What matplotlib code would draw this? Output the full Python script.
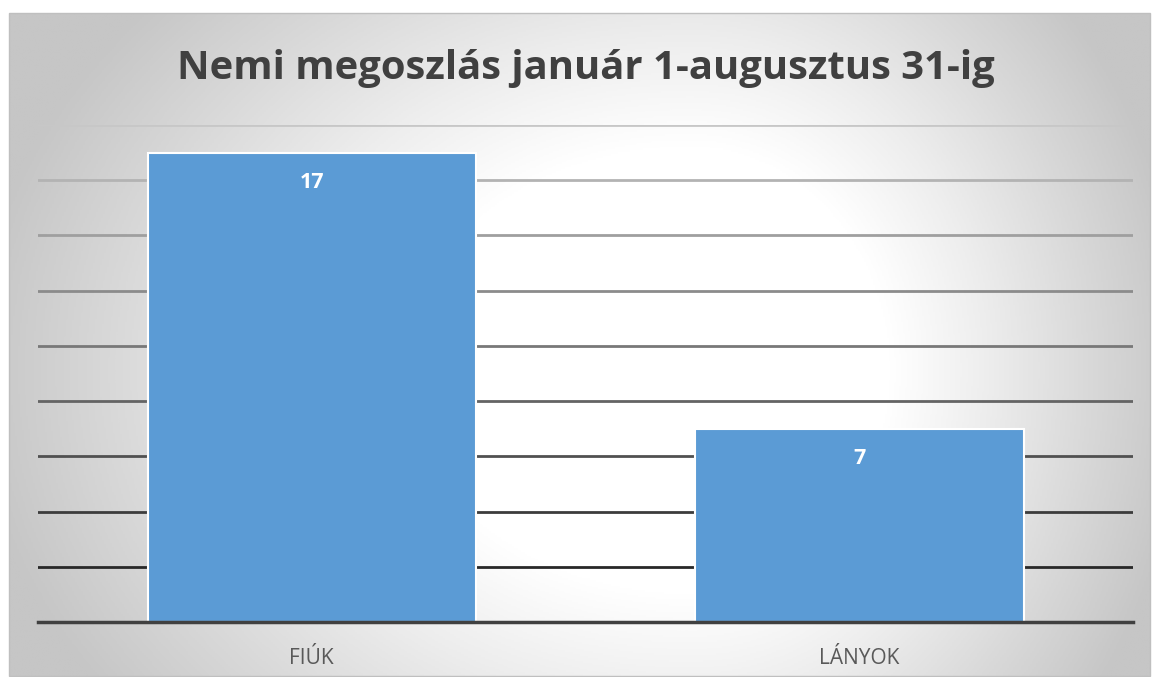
import numpy as np
import matplotlib
matplotlib.use("Agg")
import matplotlib.pyplot as plt
from matplotlib.colors import LinearSegmentedColormap

categories = ["FIÚK", "LÁNYOK"]
values = [17, 7]
title = "Nemi megoszlás január 1-augusztus 31-ig"
ymax = 18
ystep = 2

W, H = 1152, 677
fig = plt.figure(figsize=(W / 100, H / 100), dpi=100)
fig.patch.set_facecolor("white")

# background panel with radial gradient
px0, py0, px1, py1 = 9, 13, 1150, 676
bg = fig.add_axes([px0 / W, 1 - py1 / H, (px1 - px0) / W, (py1 - py0) / H], zorder=0)
nx, ny = 600, 350
xx, yy = np.meshgrid(np.linspace(px0, px1, nx), np.linspace(py0, py1, ny))
cx, cy = 690, 370
sx = np.where(xx > cx, 500.0, 720.0)
sy = 560.0
d = np.sqrt(((xx - cx) / sx) ** 2 + ((yy - cy) / sy) ** 2)
d = np.clip(d, 0, 1.2)
cmap = LinearSegmentedColormap.from_list(
    "bg", [(0.0, "#ffffff"), (0.40, "#ffffff"), (0.6, "#ededed"), (0.8, "#d9d9d9"), (1.0, "#c6c6c6")])
bg.imshow(d, cmap=cmap, aspect="auto", extent=[0, 1, 0, 1], origin="upper", vmin=0, vmax=1)
bg.set_axis_off()
fig.patches.append(plt.Rectangle((px0 / W, 1 - py1 / H), (px1 - px0) / W, (py1 - py0) / H,
                                 transform=fig.transFigure, fill=False, edgecolor="#bfbfbf",
                                 linewidth=1.0, zorder=1))

# main axes
l, r, t, b = 38, 1133, 125, 622
ax = fig.add_axes([l / W, 1 - b / H, (r - l) / W, (b - t) / H], zorder=2)
ax.patch.set_alpha(0)
x = np.arange(len(categories))
bars = ax.bar(x, values, width=0.6, color="#5B9BD5", edgecolor="white", linewidth=1.5, zorder=3)
ax.set_xlim(-0.5, len(categories) - 0.5)
ax.set_ylim(0, ymax)
ticks = np.arange(0, ymax + 1, ystep)
ax.set_yticks(ticks)
ax.yaxis.grid(True, linewidth=2.0)
ax.set_axisbelow(True)
for tk, gl in zip(ticks, ax.get_ygridlines()):
    frac = tk / ymax
    g = 0.08 + 0.70 * frac
    gl.set_color((g, g, g))
ax.tick_params(axis="y", left=False, labelleft=False)
ax.tick_params(axis="x", bottom=False, pad=15)
ax.set_xticks(x)
ax.set_xticklabels(categories, fontsize=15, color="#595959", family="Open Sans")
for s in ["top", "left", "right"]:
    ax.spines[s].set_visible(False)
ax.spines["bottom"].set_color("#404040")
ax.spines["bottom"].set_linewidth(2.5)
ax.spines["bottom"].set_zorder(4)

for rect, v in zip(bars, values):
    ax.annotate(str(v), (rect.get_x() + rect.get_width() / 2, v), xytext=(0, -21.5),
                textcoords="offset points", ha="center", va="center", color="white",
                fontsize=15.5, fontweight="bold", family="Open Sans", zorder=5)

fig.text(586 / W, 1 - 68 / H, title, ha="center", va="center", fontsize=28.8,
         fontweight="bold", color="#404040", family="Open Sans", zorder=5)

fig.savefig("out.png", dpi=100)
